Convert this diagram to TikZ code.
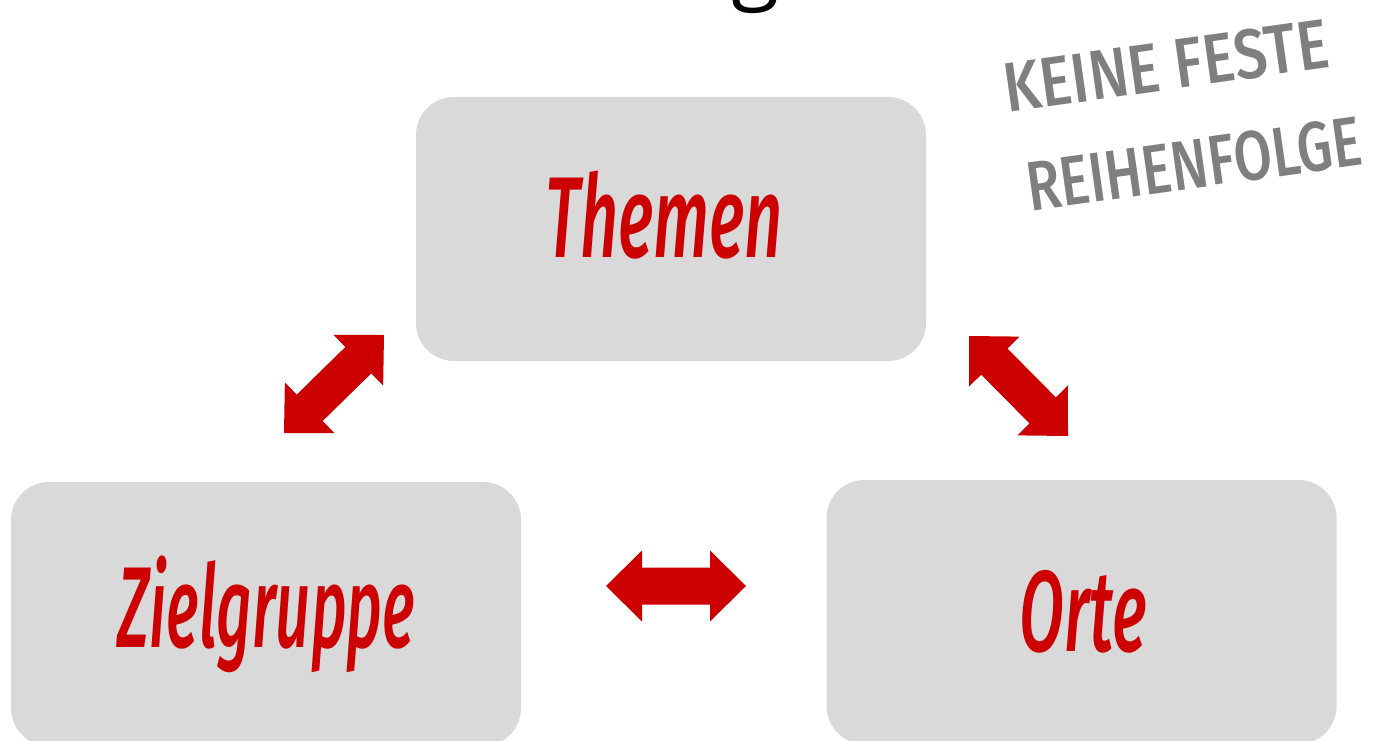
\documentclass[tikz,border=0pt]{standalone}
\usepackage{fontspec}
\setmainfont{Fira Sans}
\newfontfamily\labelfont{Fira Sans}[UprightFont={* Medium}, ItalicFont={* Medium Italic}]
\newfontfamily\notefont{Fira Sans}[UprightFont={* Medium}]
\newfontfamily\titlefont{Open Sans}
\usetikzlibrary{calc}

\definecolor{boxgray}{RGB}{217,217,217}
\definecolor{accentred}{RGB}{204,0,0}
\definecolor{notegray}{RGB}{127,127,127}

% double-headed block arrow between two named points
% head length 36, head half-width 35.5, shaft half-width 18.5
\newcommand\dblblock[2]{%
  \fill[accentred]
    (#1)
    -- ($(#1)!36pt!(#2)!35.5pt!90:(#2)$)
    -- ($(#1)!36pt!(#2)!18.5pt!90:(#2)$)
    -- ($(#2)!36pt!(#1)!18.5pt!-90:(#1)$)
    -- ($(#2)!36pt!(#1)!35.5pt!-90:(#1)$)
    -- (#2)
    -- ($(#2)!36pt!(#1)!35.5pt!90:(#1)$)
    -- ($(#2)!36pt!(#1)!18.5pt!90:(#1)$)
    -- ($(#1)!36pt!(#2)!18.5pt!-90:(#2)$)
    -- ($(#1)!36pt!(#2)!35.5pt!-90:(#2)$)
    -- cycle;}

\begin{document}
\begin{tikzpicture}[x=1pt,y=-1pt,
  topicbox/.style={fill=boxgray, draw=none, rounded corners=38pt,
    minimum width=510pt, minimum height=264pt, inner sep=0pt},
  topiclabel/.style={text=accentred, inner sep=0pt, anchor=base,
    font=\labelfont\itshape\fontsize{115}{115}\selectfont},
  notelabel/.style={text=notegray, inner sep=0pt, rotate=8,
    font=\notefont\fontsize{70}{70}\selectfont}]

\clip (0,0) rectangle (1373,741);
\fill[white] (0,0) rectangle (1373,741);

% descender of the heading above the picture
\node[inner sep=0pt, anchor=base, font=\titlefont\fontsize{88}{88}\selectfont]
  (heading) at (756,-7) {g};

% topic boxes
\node[topicbox] (themen) at (671,229) {};
\node[topicbox] (ziel)   at (266,614) {};
\node[topicbox] (orte)   at (1081.5,612) {};

\node[topiclabel] (themenlbl) at (664,257) {\scalebox{0.58}[1]{Themen}};
\node[topiclabel] (ziellbl)   at (266,647) {\scalebox{0.535}[1]{Zielgruppe}};
\node[topiclabel] (ortelbl)   at (1083,651) {\scalebox{0.57}[1]{Orte}};

% arrow end points
\coordinate (lz) at (284,433);
\coordinate (lt) at (384,335);
\coordinate (rt) at (969,336);
\coordinate (ro) at (1068,436);
\coordinate (hz) at (606,586);
\coordinate (ho) at (746,586);

\dblblock{lz}{lt}
\dblblock{rt}{ro}
\dblblock{hz}{ho}

% handwritten note
\node[notelabel] (note1) at (1166,66) {\scalebox{0.85}[1]{KEINE FESTE}};
\node[notelabel] (note2) at (1194,164) {\scalebox{0.79}[1]{REIHENFOLGE}};

\end{tikzpicture}
\end{document}
